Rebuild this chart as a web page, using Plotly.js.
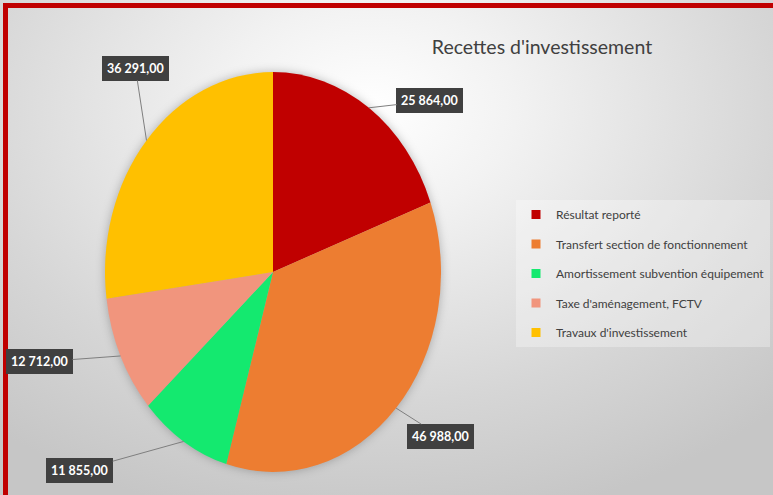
<!DOCTYPE html>
<html>
<head>
<meta charset="utf-8">
<script src="https://cdn.plot.ly/plotly-3.0.1.min.js"></script>
<style>
    html, body { margin: 0; padding: 0; width: 773px; height: 495px; overflow: hidden; }
    body { background: radial-gradient(ellipse 75% 85% at 48% 22%, #ffffff 0%, #f2f2f2 25%, #d6d6d6 70%, #c6c6c6 100%); }
    #frame { position: absolute; left: 3px; top: 3px; width: 820px; height: 540px; box-sizing: border-box;
             border-left: 5px solid #c00000; border-top: 5px solid #c00000; }
    #chart { position: absolute; left: 0; top: 0; width: 773px; height: 495px; }
    .pielayer { filter: drop-shadow(0 0 5px rgba(0,0,0,0.25)); }
</style>
</head>
<body>
<div id="frame"></div>
<div id="chart"></div>
<script>
// Data
let labels = ["Résultat reporté", "Transfert section de fonctionnement", "Amortissement subvention équipement", "Taxe d'aménagement, FCTV", "Travaux d'investissement"];
let values = [25864, 46988, 11855, 12712, 36291];
let colors = ["#c00000", "#ed7d31", "#14e96f", "#f1957d", "#ffc000"];
// label box offset from the slice edge (px)
let labelOffsets = [[61, -7], [44, 28], [-104, 29], [-81, 6], [-11, -72]];

const W = 773, H = 495;
const cx = 273, cy = 272, ry = 200, rx = 168;
const FONT = "Lato, 'Liberation Sans', Arial, sans-serif";

function fmt(v) {
    return v.toFixed(0).replace(/\B(?=(\d{3})+(?!\d))/g, " ") + ",00";
}

let pieTrace = {
    type: "pie",
    labels: labels,
    values: values,
    sort: false,
    direction: "clockwise",
    rotation: 0,
    textinfo: "none",
    hoverinfo: "label+value",
    showlegend: false,
    marker: { colors: colors, line: { width: 0 } },
    domain: { x: [(cx - ry) / W, (cx + ry) / W], y: [1 - (cy + ry) / H, 1 - (cy - ry) / H] }
};

// legend entries (one group each so the items can be spaced out)
let legendTraces = labels.map((lab, i) => ({
    type: "scatter",
    x: [null], y: [null],
    mode: "markers",
    name: lab,
    legendgroup: "g" + i,
    marker: { symbol: "square", size: 9, color: colors[i] },
    hoverinfo: "skip"
}));

// value labels with leader lines
let total = values.reduce((a, b) => a + b, 0);
let cum = 0;
let annotations = values.map((v, i) => {
    let mid = (cum + v / 2) / total * 2 * Math.PI;
    cum += v;
    let px = cx + rx * Math.sin(mid);
    let py = cy - ry * Math.cos(mid);
    return {
        x: px / W, y: 1 - py / H, xref: "paper", yref: "paper",
        ax: labelOffsets[i][0], ay: labelOffsets[i][1],
        text: fmt(v),
        showarrow: true, arrowhead: 0, arrowwidth: 1, arrowcolor: "#7f7f7f", standoff: 0,
        bgcolor: "#404040", bordercolor: "#404040", borderpad: 4,
        font: { family: FONT, size: 12.5, color: "#ffffff", weight: "bold" }
    };
});

let layout = {
    width: W, height: H,
    margin: { l: 0, r: 0, t: 0, b: 0, autoexpand: false },
    paper_bgcolor: "rgba(0,0,0,0)",
    plot_bgcolor: "rgba(0,0,0,0)",
    title: {
        text: "Recettes d'investissement",
        x: 542 / W, xanchor: "center",
        y: 1 - 47 / H, yanchor: "middle",
        font: { family: FONT, size: 19.5, color: "#404040" }
    },
    xaxis: { visible: false },
    yaxis: { visible: false },
    showlegend: true,
    legend: {
        x: 516 / W, xanchor: "left",
        y: 1 - 200 / H, yanchor: "top",
        bgcolor: "rgba(255,255,255,0.3)",
        font: { family: FONT, size: 12, color: "#404040" },
        traceorder: "grouped",
        tracegroupgap: 10.5,
        itemwidth: 30
    },
    annotations: annotations
};

Plotly.newPlot("chart", [pieTrace].concat(legendTraces), layout, { displayModeBar: false }).then(gd => {
    // stretch the pie into the ellipse of the original
    let g = gd.querySelector(".pielayer .trace");
    let s = rx / ry;
    if (g) g.setAttribute("transform", "translate(" + (cx * (1 - s)) + ",0) scale(" + s + ",1)");
});
</script>
</body>
</html>
